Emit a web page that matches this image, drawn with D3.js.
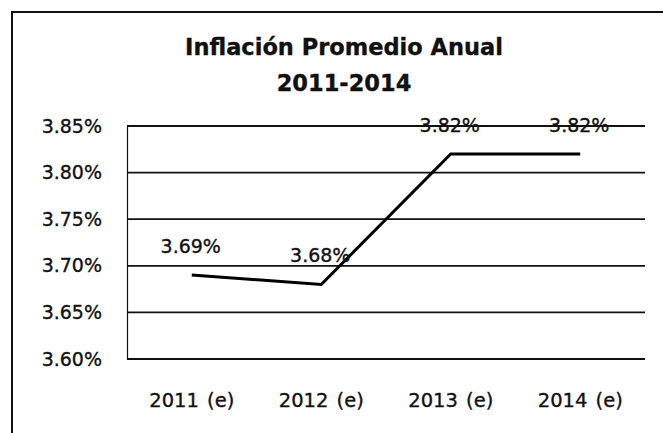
<!DOCTYPE html>
<html>
<head>
<meta charset="utf-8">
<script src="https://cdn.jsdelivr.net/npm/d3@7"></script>
<style>
  body { margin: 0; background: #fff; }
  text { font-family: 'DejaVu Sans', sans-serif; fill: #111; stroke: #111; stroke-width: 0.35px; }
</style>
</head>
<body>
<div id="chart"></div>
<script>
let years = ['2011 (e)', '2012 (e)', '2013 (e)', '2014 (e)']
let inflation = [3.69, 3.68, 3.82, 3.82]
let labels = ['3.69%', '3.68%', '3.82%', '3.82%']
let yTicks = [3.60, 3.65, 3.70, 3.75, 3.80, 3.85]
let titleLines = ['Inflación Promedio Anual', '2011-2014']

let width = 663
let height = 433

let svg = d3.select('#chart').append('svg')
    .attr('width', width)
    .attr('height', height)

// scanned frame: left and top edges only
svg.append('path')
    .attr('d', 'M12,433 V12 H663')
    .attr('fill', 'none')
    .attr('stroke', '#111')
    .attr('stroke-width', 2)

let x = d3.scaleBand().domain(years).range([127, 645])
let y = d3.scaleLinear().domain([3.60, 3.85]).range([359, 126])

// title
svg.selectAll('.title')
    .data(titleLines)
    .enter().append('text')
      .attr('class', 'title')
      .attr('x', 344)
      .attr('y', (d, i) => 55 + i * 36)
      .attr('text-anchor', 'middle')
      .attr('font-size', '22.5px')
      .attr('font-weight', 'bold')
      .text((d) => d)

// gridlines
svg.append('g')
  .selectAll('line')
  .data(yTicks)
  .enter().append('line')
    .attr('x1', 127)
    .attr('x2', 645)
    .attr('y1', (d) => y(d))
    .attr('y2', (d) => y(d))
    .attr('stroke', '#111')
    .attr('stroke-width', 1.8)

// y axis
let yAxis = svg.append('g')
    .attr('transform', 'translate(127,0)')
    .call(d3.axisLeft(y).tickValues(yTicks).tickSize(0).tickPadding(25)
      .tickFormat((d) => d.toFixed(2) + '%'))
yAxis.select('.domain').attr('stroke', '#111').attr('stroke-width', 1.2)
yAxis.selectAll('text').attr('font-size', '19px').attr('font-family', 'DejaVu Sans')

// x axis labels
let xAxis = svg.append('g')
    .attr('transform', 'translate(0,359)')
    .call(d3.axisBottom(x).tickSize(0).tickPadding(34))
xAxis.select('.domain').remove()
xAxis.selectAll('text')
    .attr('font-size', '19.5px')
    .attr('font-family', 'DejaVu Sans')
    .attr('word-spacing', '2px')

// line
let line = d3.line()
    .x((d, i) => x(years[i]) + x.bandwidth() / 2)
    .y((d) => y(d))

svg.append('path')
    .datum(inflation)
    .attr('d', line)
    .attr('fill', 'none')
    .attr('stroke', '#000')
    .attr('stroke-width', 3)

// data labels
svg.selectAll('.lbl')
    .data(inflation)
    .enter().append('text')
      .attr('class', 'lbl')
      .attr('x', (d, i) => x(years[i]) + x.bandwidth() / 2 - 1)
      .attr('y', (d) => y(d) - 22)
      .attr('text-anchor', 'middle')
      .attr('font-size', '19px')
      .text((d, i) => labels[i])
</script>
</body>
</html>
